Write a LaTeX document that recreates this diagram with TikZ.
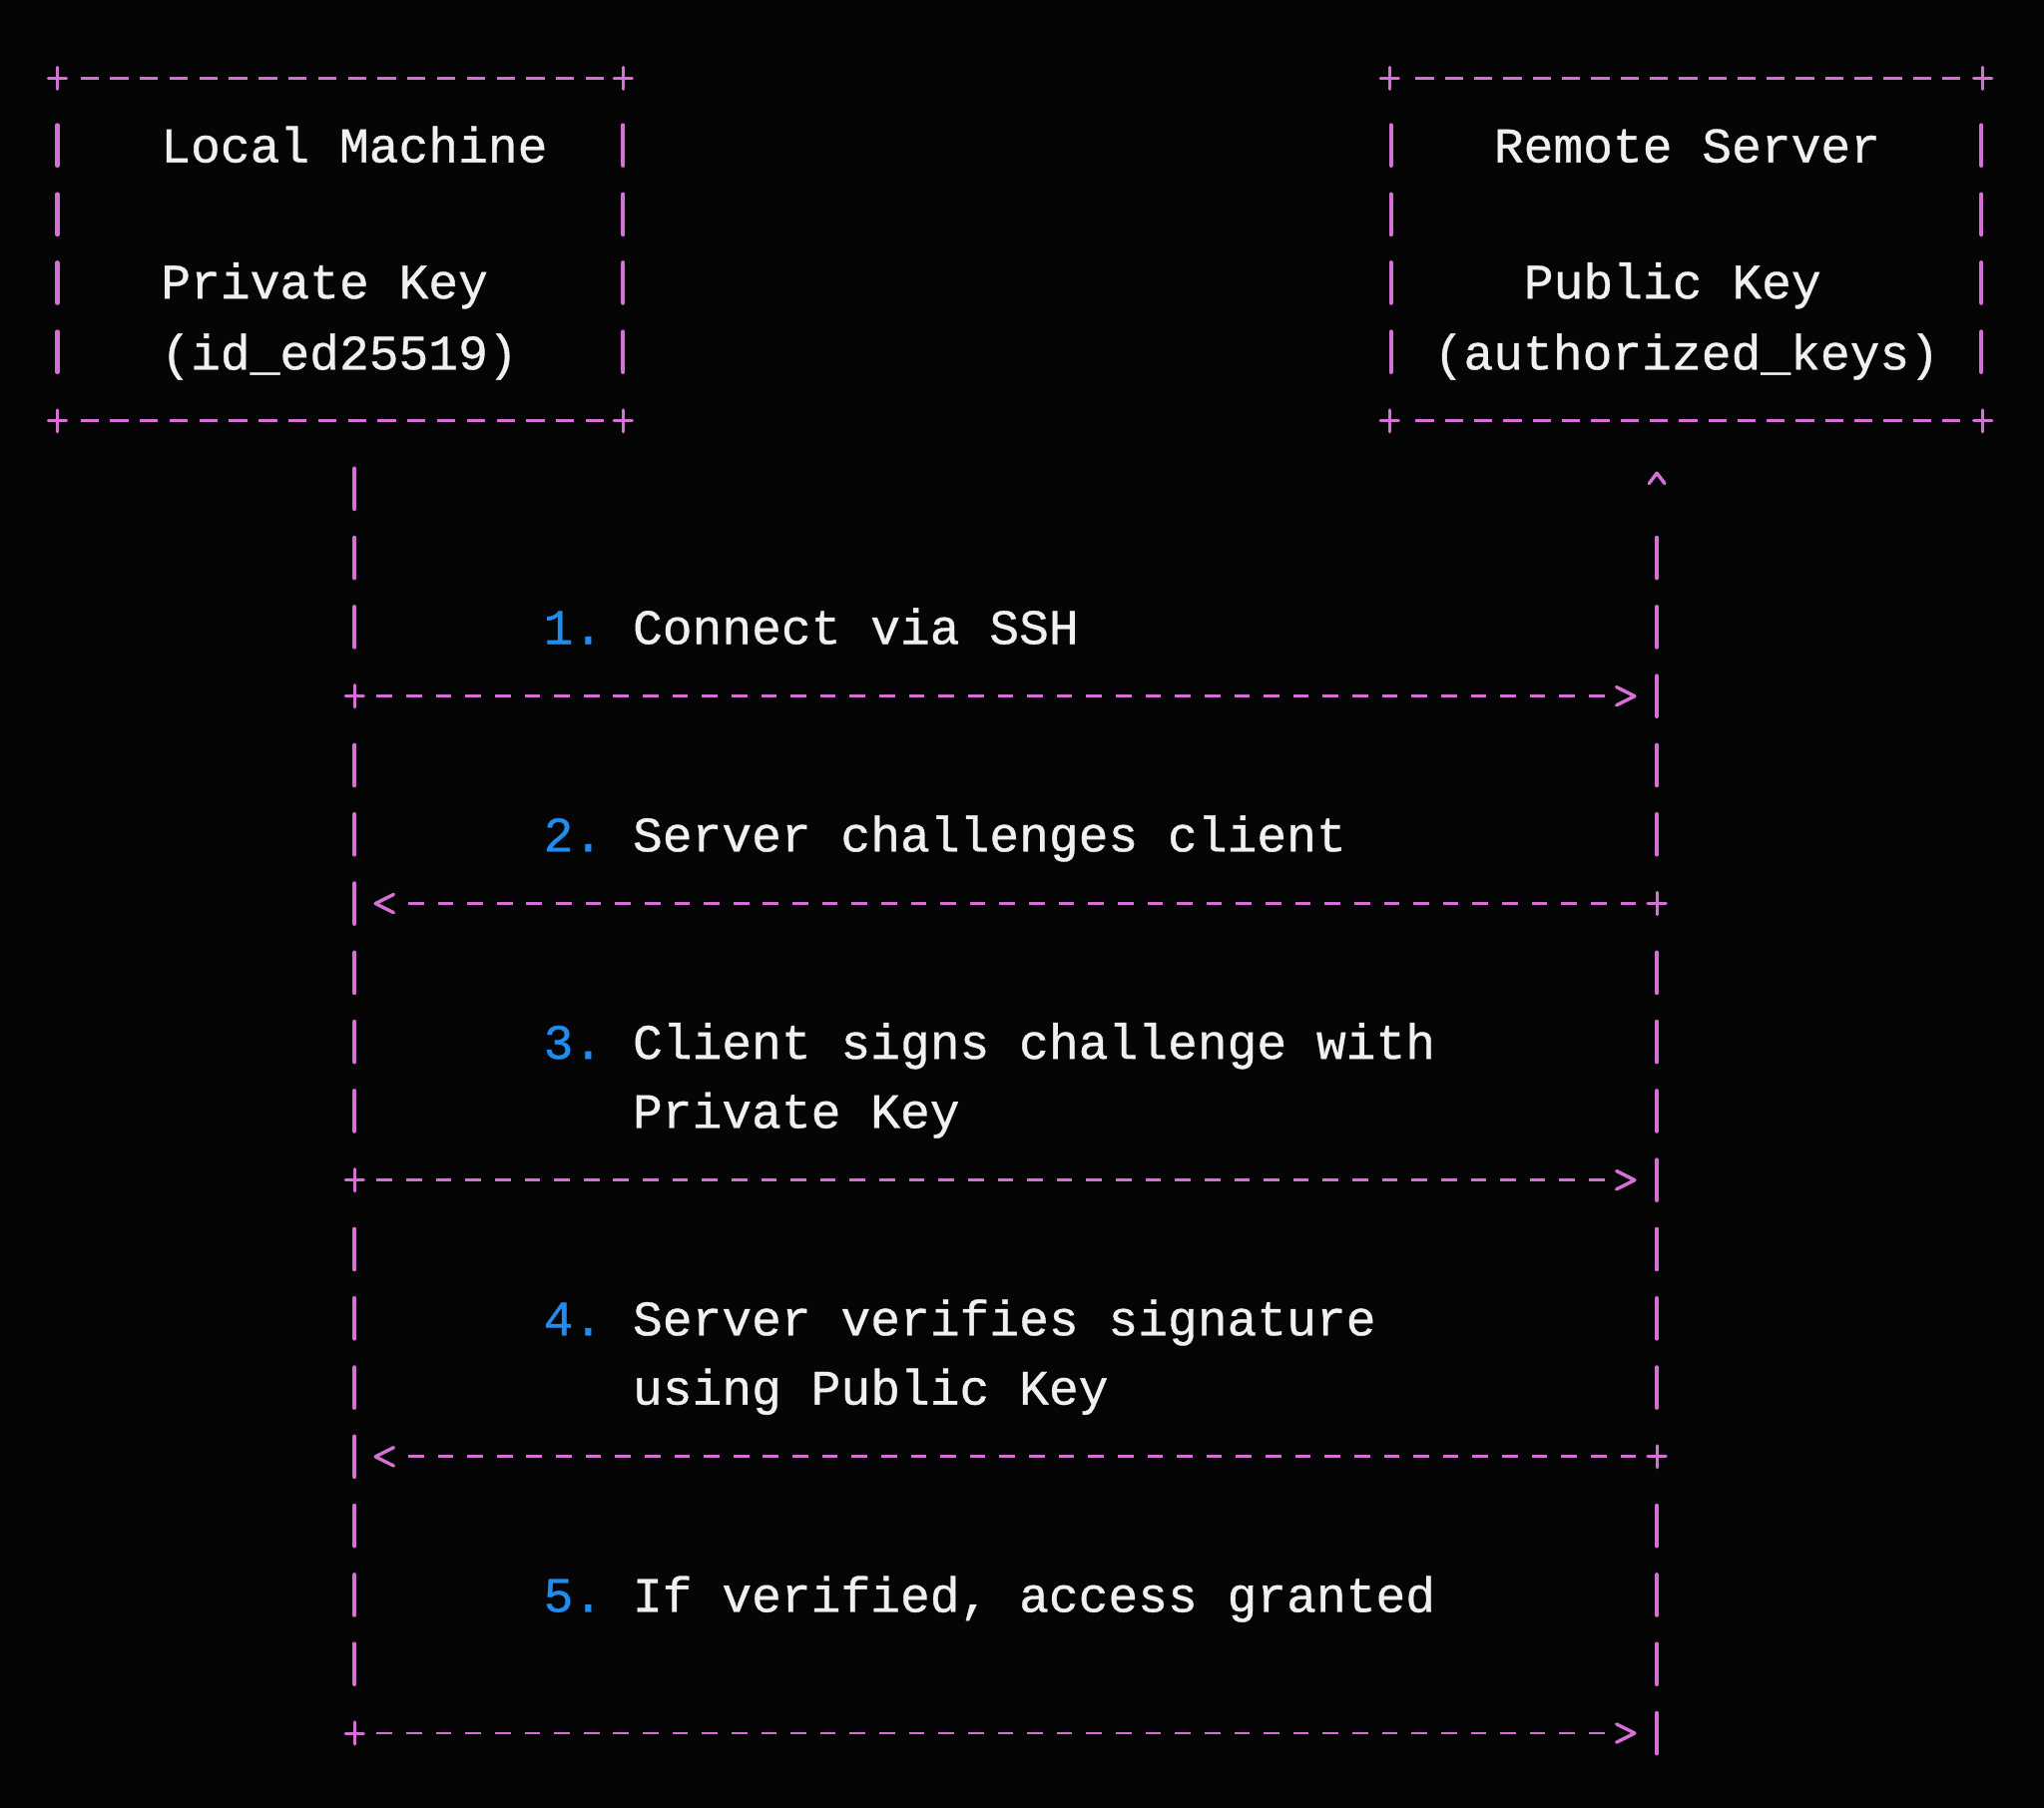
\documentclass[tikz,border=0pt]{standalone}
\usepackage{fontspec}
\setmonofont[FakeBold=0.7]{Liberation Mono}
\usetikzlibrary{arrows.meta}
\definecolor{bg}{RGB}{5,5,5}
\definecolor{pinkline}{RGB}{214,112,214}
\definecolor{numblue}{RGB}{32,140,238}
\definecolor{txt}{RGB}{240,240,240}
\tikzset{
  lbl/.style={anchor=base west, inner sep=0pt, outer sep=0pt, text=txt,
    font=\ttfamily\fontsize{38}{46}\selectfont\frenchspacing},
  bar/.style={draw=pinkline, line width=3.2pt, line cap=round},
  crossline/.style={draw=pinkline, line width=2.3pt, line cap=round},
  boxdashL/.style={draw=pinkline, line width=2.3pt, dash pattern=on 14pt off 8.8pt},
  boxdashR/.style={draw=pinkline, line width=2.3pt, dash pattern=on 14pt off 8.44pt},
  msg/.style={draw=pinkline, line width=2.2pt, dash pattern=on 12pt off 10.68pt},
  chev/.style={draw=pinkline, line width=2.6pt, line cap=round, line join=round},
  plusmark/.pic={\draw[crossline] (-7,0) -- (7,0) (0,-8.5) -- (0,8.5);}
}
\begin{document}
\begin{tikzpicture}[x=1pt,y=-1pt]
\fill[bg] (0,0) rectangle (1568,1387.3);
\useasboundingbox (0,0) rectangle (1568,1387.3);

% ---------- Local Machine box ----------
\coordinate (LTL) at (44,60);
\coordinate (LTR) at (478,60);
\coordinate (LBL) at (44,323);
\coordinate (LBR) at (478,323);
\draw[boxdashL] ([xshift=17.7pt]LTL) -- ([xshift=-14.7pt]LTR);
\draw[boxdashL] ([xshift=17.7pt]LBL) -- ([xshift=-14.7pt]LBR);
\foreach \c in {LTL,LTR,LBL,LBR} \pic at (\c) {plusmark};
\foreach \y in {111.5,164.5,217,270} {
  \draw[bar] (44,{\y-15.5}) -- (44,{\y+15.5});
  \draw[bar] (478,{\y-15.5}) -- (478,{\y+15.5});
}
\node[lbl] (lmA) at (123.5,124.5) {Local Machine};
\node[lbl] (lmB) at (123.5,229) {Private Key};
\node[lbl] (lmC) at (123.5,283.5) {(id\_ed25519)};

% ---------- Remote Server box ----------
\coordinate (RTL) at (1066,60);
\coordinate (RTR) at (1521,60);
\coordinate (RBL) at (1066,323);
\coordinate (RBR) at (1521,323);
\draw[boxdashR] ([xshift=20pt]RTL) -- ([xshift=-17pt]RTR);
\draw[boxdashR] ([xshift=20pt]RBL) -- ([xshift=-17pt]RBR);
\foreach \c in {RTL,RTR,RBL,RBR} \pic at (\c) {plusmark};
\foreach \y in {111.5,164.5,217,270} {
  \draw[bar] (1067,{\y-15.5}) -- (1067,{\y+15.5});
  \draw[bar] (1520,{\y-15.5}) -- (1520,{\y+15.5});
}
\node[lbl] (rsA) at (1146,124.5) {Remote Server};
\node[lbl] (rsB) at (1169,229) {Public Key};
\node[lbl] (rsC) at (1100,283.5) {(authorized\_keys)};

% ---------- lifelines ----------
\foreach \k in {0,...,18} {
  \coordinate (l\k) at (272,{375+53.05*\k});
  \coordinate (r\k) at (1271,{375+53.05*\k});
}
\foreach \k in {0,1,2,4,5,6,7,8,9,11,12,13,14,15,16,17}
  \draw[bar] ([yshift=15.5pt]l\k) -- ([yshift=-15.5pt]l\k);
\foreach \k in {1,2,3,4,5,7,8,9,10,11,12,13,15,16,17,18}
  \draw[bar] ([yshift=15.5pt]r\k) -- ([yshift=-15.5pt]r\k);
\foreach \k in {3,10,18} \pic at (l\k) {plusmark};
\foreach \k in {6,14} \pic at (r\k) {plusmark};
\draw[chev] ([xshift=-6pt,yshift=4pt]r0) -- ([yshift=12pt]r0) -- ([xshift=6pt,yshift=4pt]r0);

% ---------- messages ----------
% client -> server
\foreach \k in {3,10,18} {
  \draw[msg] ([xshift=17pt]l\k) -- ([xshift=-39pt]r\k);
  \draw[chev] ([xshift=-31pt,yshift=7pt]r\k) -- ([xshift=-17pt]r\k) -- ([xshift=-31pt,yshift=-7pt]r\k);
}
% server -> client
\foreach \k in {6,14} {
  \draw[msg] ([xshift=-16pt]r\k) -- ([xshift=38pt]l\k);
  \draw[chev] ([xshift=30pt,yshift=7pt]l\k) -- ([xshift=16pt]l\k) -- ([xshift=30pt,yshift=-7pt]l\k);
}

\node[lbl] (m1) at (417,494.1) {\textcolor{numblue}{1.} Connect via SSH};
\node[lbl] (m2) at (417,653.3) {\textcolor{numblue}{2.} Server challenges client};
\node[lbl] (m3a) at (417,812.4) {\textcolor{numblue}{3.} Client signs challenge with};
\node[lbl] (m3b) at (485.4,865.5) {Private Key};
\node[lbl] (m4a) at (417,1024.6) {\textcolor{numblue}{4.} Server verifies signature};
\node[lbl] (m4b) at (485.4,1077.7) {using Public Key};
\node[lbl] (m5) at (417,1236.8) {\textcolor{numblue}{5.} If verified, access granted};
\end{tikzpicture}
\end{document}
